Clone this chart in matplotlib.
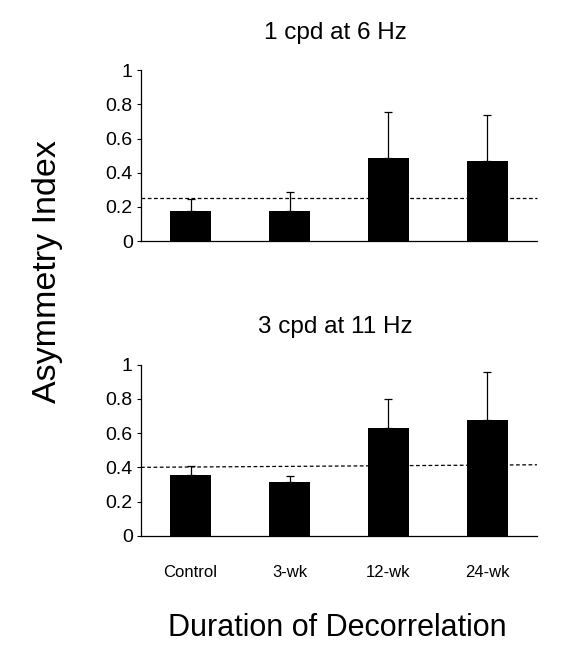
import numpy as np
import matplotlib
matplotlib.use("Agg")
import matplotlib.pyplot as plt

plt.rcParams['font.family'] = ['Liberation Sans', 'DejaVu Sans']

# Data
groups = ["Control", "3-wk", "12-wk", "24-wk"]
top_means = [0.175, 0.175, 0.485, 0.468]
top_err = [0.07, 0.11, 0.273, 0.267]
top_chance = [0.25, 0.25]
bottom_means = [0.357, 0.316, 0.632, 0.678]
bottom_err = [0.048, 0.033, 0.168, 0.277]
bottom_chance = [0.40, 0.415]
yticks = [0, 0.2, 0.4, 0.6, 0.8, 1]
ytick_labels = ["0", "0.2", "0.4", "0.6", "0.8", "1"]

fig = plt.figure(figsize=(5.78, 6.68), dpi=100)
ax_top = fig.add_axes([0.244, 0.639, 0.685, 0.256])
ax_bot = fig.add_axes([0.244, 0.198, 0.685, 0.256])


def draw_panel(ax, means, err, chance, show_x):
    x = np.arange(len(groups))
    ax.bar(x, means, width=0.41, color="black", zorder=2)
    ax.errorbar(x, means, yerr=[np.zeros(len(err)), err], fmt="none",
                ecolor="black", elinewidth=0.9, capsize=3, capthick=0.9, zorder=1)
    ax.plot([-0.5, 3.5], chance, color="black", linestyle=(0, (3, 2)),
            linewidth=0.9, zorder=3, clip_on=False)
    ax.set_xlim(-0.5, 3.5)
    ax.set_ylim(0, 1)
    ax.set_yticks(yticks)
    ax.set_yticklabels(ytick_labels, fontsize=14)
    ax.tick_params(axis="y", length=3, width=0.8, pad=3)
    ax.set_xticks(x)
    if show_x:
        ax.set_xticklabels(groups, fontsize=12)
        ax.tick_params(axis="x", length=0, pad=21)
    else:
        ax.set_xticklabels([])
        ax.tick_params(axis="x", length=0)
    for side in ["top", "right"]:
        ax.spines[side].set_visible(False)
    for side in ["left", "bottom"]:
        ax.spines[side].set_linewidth(0.9)


draw_panel(ax_top, top_means, top_err, top_chance, False)
draw_panel(ax_bot, bottom_means, bottom_err, bottom_chance, True)

fig.text(335 / 578, 1 - 33 / 668, "1 cpd at 6 Hz", fontsize=17.5, ha="center", va="center")
fig.text(335 / 578, 1 - 327 / 668, "3 cpd at 11 Hz", fontsize=17.5, ha="center", va="center")
fig.text(337 / 578, 1 - 628 / 668, "Duration of Decorrelation", fontsize=22, ha="center", va="center")
fig.text(48 / 578, 1 - 272 / 668, "Asymmetry Index", fontsize=24.5, ha="center", va="center",
         rotation=90)

fig.savefig("out.png", dpi=100, facecolor="white")
